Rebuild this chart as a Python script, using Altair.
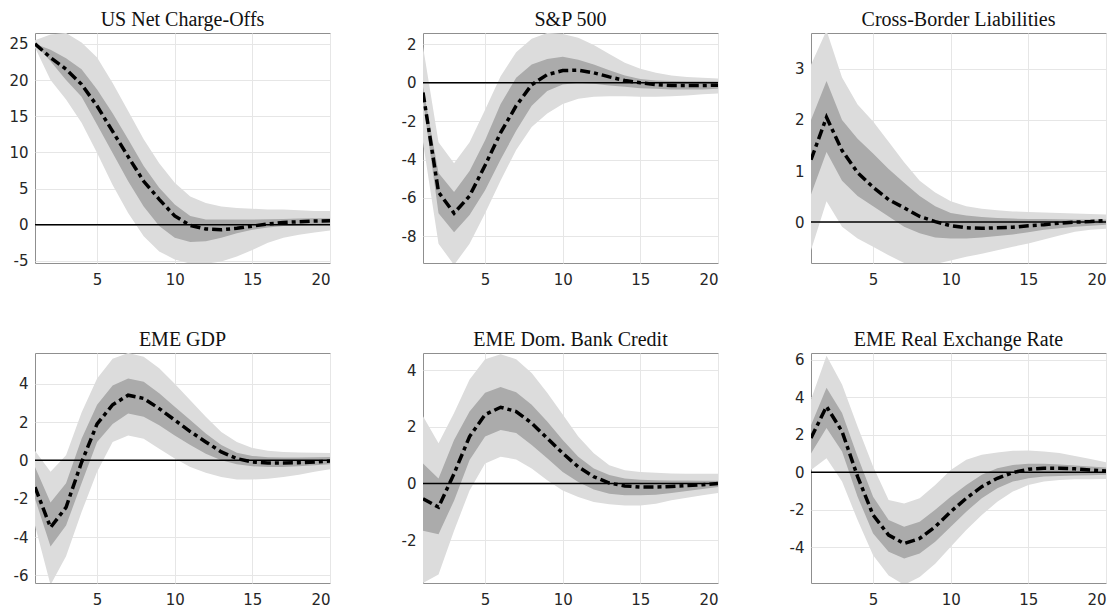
import altair as alt
import pandas as pd

horizon = list(range(1, 21))

# ---------------- US Net Charge-Offs ----------------
nco_med  = [25.0, 23.1, 21.5, 19.4, 16.4, 12.9, 9.4, 6.0, 3.5, 1.2, -0.1, -0.6, -0.7, -0.5, -0.2, 0.1, 0.3, 0.4, 0.5, 0.55]
nco_hi68 = [25.0, 24.2, 23.0, 21.5, 18.7, 15.4, 11.8, 8.1, 5.1, 2.8, 1.2, 0.7, 0.7, 0.7, 0.7, 0.75, 0.8, 0.85, 0.9, 0.9]
nco_lo68 = [25.0, 22.6, 20.0, 17.7, 13.8, 9.9, 6.0, 2.5, -0.2, -1.8, -2.4, -2.3, -1.8, -1.2, -0.7, -0.4, -0.2, -0.1, -0.05, 0.0]
nco_hi90 = [25.5, 26.3, 26.5, 25.2, 23.1, 19.6, 15.7, 11.8, 8.5, 5.8, 3.9, 3.0, 2.5, 2.3, 2.2, 2.1, 2.1, 2.0, 1.9, 1.9]
nco_lo90 = [24.5, 20.0, 17.3, 14.1, 9.9, 5.5, 1.6, -1.6, -3.7, -4.8, -5.4, -5.4, -5.1, -4.4, -3.5, -2.5, -1.8, -1.4, -1.1, -0.8]

# ---------------- S&P 500 ----------------
spx_med  = [-0.5, -5.7, -6.8, -5.9, -4.3, -2.6, -1.2, -0.1, 0.43, 0.64, 0.66, 0.52, 0.31, 0.12, 0.0, -0.09, -0.14, -0.14, -0.14, -0.12]
spx_hi68 = [-0.2, -4.7, -5.7, -4.6, -3.0, -1.1, 0.26, 0.96, 1.25, 1.36, 1.2, 0.96, 0.66, 0.38, 0.2, 0.12, 0.1, 0.08, 0.08, 0.07]
spx_lo68 = [-0.9, -6.8, -7.8, -6.9, -5.6, -4.0, -2.5, -1.2, -0.43, -0.09, 0.0, -0.05, -0.14, -0.2, -0.28, -0.31, -0.35, -0.35, -0.35, -0.31]
spx_hi90 = [1.9, -3.1, -4.2, -3.1, -1.4, 0.35, 1.6, 2.3, 2.6, 2.55, 2.35, 1.98, 1.5, 1.05, 0.73, 0.52, 0.38, 0.3, 0.26, 0.23]
spx_lo90 = [-3.1, -8.4, -9.5, -8.4, -6.8, -5.1, -3.5, -2.3, -1.6, -1.1, -0.83, -0.73, -0.7, -0.7, -0.73, -0.73, -0.7, -0.66, -0.6, -0.56]

# ---------------- Cross-Border Liabilities ----------------
cbl_med  = [1.22, 2.05, 1.4, 0.97, 0.68, 0.44, 0.28, 0.11, 0.01, -0.07, -0.11, -0.12, -0.11, -0.1, -0.07, -0.05, -0.02, 0.0, 0.01, 0.03]
cbl_hi68 = [2.0, 2.76, 2.0, 1.63, 1.34, 1.04, 0.77, 0.51, 0.31, 0.18, 0.13, 0.1, 0.08, 0.07, 0.06, 0.06, 0.055, 0.05, 0.05, 0.05]
cbl_lo68 = [0.54, 1.37, 0.81, 0.51, 0.31, 0.11, -0.09, -0.22, -0.3, -0.32, -0.32, -0.3, -0.27, -0.24, -0.2, -0.15, -0.12, -0.09, -0.07, -0.05]
cbl_hi90 = [3.08, 3.75, 2.83, 2.3, 1.97, 1.57, 1.17, 0.81, 0.58, 0.41, 0.31, 0.26, 0.23, 0.21, 0.2, 0.19, 0.18, 0.17, 0.16, 0.15]
cbl_lo90 = [-0.55, 0.41, -0.09, -0.32, -0.48, -0.65, -0.8, -0.85, -0.82, -0.75, -0.68, -0.62, -0.55, -0.48, -0.42, -0.34, -0.26, -0.19, -0.15, -0.13]

# ---------------- EME GDP ----------------
gdp_med  = [-1.4, -3.5, -2.45, -0.1, 1.9, 2.9, 3.4, 3.23, 2.7, 2.1, 1.5, 0.96, 0.44, 0.09, -0.09, -0.14, -0.14, -0.12, -0.09, -0.04]
gdp_hi68 = [-0.35, -2.2, -1.2, 1.13, 2.9, 3.9, 4.27, 4.1, 3.5, 2.8, 2.1, 1.4, 0.8, 0.4, 0.23, 0.16, 0.15, 0.15, 0.16, 0.17]
gdp_lo68 = [-2.0, -4.5, -3.4, -1.2, 0.96, 1.9, 2.44, 2.27, 1.83, 1.3, 0.8, 0.35, 0.0, -0.2, -0.31, -0.35, -0.35, -0.31, -0.26, -0.2]
gdp_hi90 = [0.5, -0.6, 0.26, 2.5, 4.27, 5.3, 5.6, 5.4, 4.8, 4.0, 3.14, 2.27, 1.48, 0.96, 0.65, 0.5, 0.44, 0.41, 0.4, 0.38]
gdp_lo90 = [-3.4, -6.5, -5.0, -2.7, -0.6, 0.96, 1.3, 1.13, 0.6, 0.09, -0.35, -0.65, -0.87, -1.0, -1.0, -0.96, -0.87, -0.75, -0.6, -0.47]

# ---------------- EME Dom. Bank Credit ----------------
dbc_med  = [-0.53, -0.83, 0.35, 1.66, 2.43, 2.69, 2.54, 2.13, 1.6, 1.07, 0.59, 0.24, 0.02, -0.08, -0.12, -0.12, -0.1, -0.07, -0.04, 0.0]
dbc_hi68 = [0.71, 0.18, 1.54, 2.54, 3.2, 3.4, 3.22, 2.78, 2.19, 1.54, 0.95, 0.53, 0.3, 0.18, 0.14, 0.12, 0.11, 0.11, 0.1, 0.1]
dbc_lo68 = [-1.66, -1.78, -0.6, 0.83, 1.66, 1.89, 1.78, 1.36, 0.89, 0.41, 0.06, -0.21, -0.36, -0.41, -0.41, -0.39, -0.33, -0.26, -0.19, -0.12]
dbc_hi90 = [2.37, 1.42, 2.49, 3.67, 4.38, 4.56, 4.38, 3.9, 3.2, 2.43, 1.66, 1.07, 0.65, 0.47, 0.41, 0.38, 0.36, 0.35, 0.35, 0.35]
dbc_lo90 = [-3.5, -3.2, -1.66, -0.24, 0.71, 0.95, 0.85, 0.53, 0.12, -0.24, -0.47, -0.65, -0.73, -0.77, -0.77, -0.71, -0.59, -0.5, -0.41, -0.33]

# ---------------- EME Real Exchange Rate ----------------
rer_med  = [1.82, 3.5, 2.17, -0.23, -2.28, -3.35, -3.8, -3.53, -2.9, -2.1, -1.39, -0.77, -0.32, -0.02, 0.16, 0.21, 0.21, 0.18, 0.12, 0.07]
rer_hi68 = [2.5, 4.5, 3.15, 0.84, -1.3, -2.55, -2.9, -2.64, -2.0, -1.3, -0.68, -0.14, 0.21, 0.39, 0.45, 0.45, 0.41, 0.36, 0.3, 0.25]
rer_lo68 = [1.0, 2.35, 1.1, -1.3, -3.26, -4.24, -4.6, -4.33, -3.7, -2.9, -2.1, -1.39, -0.86, -0.5, -0.32, -0.23, -0.2, -0.18, -0.16, -0.14]
rer_hi90 = [3.87, 6.2, 4.67, 2.44, 0.3, -1.48, -1.66, -1.39, -0.68, 0.12, 0.66, 0.93, 1.05, 1.14, 1.16, 1.1, 1.02, 0.87, 0.71, 0.53]
rer_lo90 = [0.12, 0.75, -0.5, -2.55, -4.42, -5.5, -6.0, -5.58, -4.87, -3.97, -3.08, -2.28, -1.57, -1.03, -0.68, -0.5, -0.41, -0.38, -0.38, -0.36]

titles = ["US Net Charge-Offs", "S&P 500", "Cross-Border Liabilities",
          "EME GDP", "EME Dom. Bank Credit", "EME Real Exchange Rate"]
y_domains = [[-5.3, 26.5], [-9.4, 2.6], [-0.8, 3.7], [-6.4, 5.6], [-3.5, 4.6], [-5.9, 6.35]]
y_ticks = [[-5, 0, 5, 10, 15, 20, 25], [-8, -6, -4, -2, 0, 2], [0, 1, 2, 3],
           [-6, -4, -2, 0, 2, 4], [-2, 0, 2, 4], [-4, -2, 0, 2, 4, 6]]
x_ticks = [5, 10, 15, 20]
series = [
    (nco_med, nco_lo68, nco_hi68, nco_lo90, nco_hi90),
    (spx_med, spx_lo68, spx_hi68, spx_lo90, spx_hi90),
    (cbl_med, cbl_lo68, cbl_hi68, cbl_lo90, cbl_hi90),
    (gdp_med, gdp_lo68, gdp_hi68, gdp_lo90, gdp_hi90),
    (dbc_med, dbc_lo68, dbc_hi68, dbc_lo90, dbc_hi90),
    (rer_med, rer_lo68, rer_hi68, rer_lo90, rer_hi90),
]

W, H = 295, 230
LIGHT = "#dcdcdc"
DARK = "#ababab"


def panel(title, ydom, yt, med, lo68, hi68, lo90, hi90):
    df = pd.DataFrame({"h": horizon, "med": med, "lo68": lo68, "hi68": hi68,
                       "lo90": lo90, "hi90": hi90})
    x = alt.X("h:Q", scale=alt.Scale(domain=[1, 20], nice=False, zero=False),
              axis=alt.Axis(values=x_ticks, tickCount=20, title=None,
                            labelPadding=9, labelOverlap=False))
    y_scale = alt.Scale(domain=ydom, nice=False, zero=False)
    y_axis = alt.Axis(values=yt, tickCount=20, title=None, labelPadding=7,
                      labelOverlap=False, labelExpr="toString(datum.value)")
    base = alt.Chart(df)
    band90 = base.mark_area(color=LIGHT, clip=True).encode(
        x=x, y=alt.Y("lo90:Q", scale=y_scale, axis=y_axis), y2="hi90:Q")
    band68 = base.mark_area(color=DARK, clip=True).encode(
        x="h:Q", y="lo68:Q", y2="hi68:Q")
    zero = alt.Chart(pd.DataFrame({"z": [0]})).mark_rule(
        color="black", strokeWidth=1.5).encode(
        y="z:Q", x=alt.value(0), x2=alt.value(W))
    line = base.mark_line(color="black", strokeWidth=3.5,
                          strokeDash=[10, 4, 4, 4], clip=True).encode(
        x="h:Q", y="med:Q")
    return alt.layer(band90, band68, zero, line).properties(
        width=W, height=H,
        title=alt.Title(title, font="Liberation Serif", fontSize=20,
                        fontWeight="normal", color="#111111", offset=3))


charts = [panel(t, d, yt, *s) for t, d, yt, s in zip(titles, y_domains, y_ticks, series)]

chart = alt.concat(*charts, columns=3, spacing={"row": 90, "column": 93},
                   bounds="flush").properties(
    padding={"left": 0, "top": 1, "right": 0, "bottom": 0}
).configure_view(
    stroke="#8f8f8f", strokeWidth=1
).configure_axis(
    grid=True, gridColor="#e6e6e6", gridWidth=1, domain=False, ticks=False,
    labelFont="DejaVu Sans", labelFontSize=15, labelColor="#262626"
)

chart.save("out.html", embed_options={"renderer": "svg", "actions": False})
